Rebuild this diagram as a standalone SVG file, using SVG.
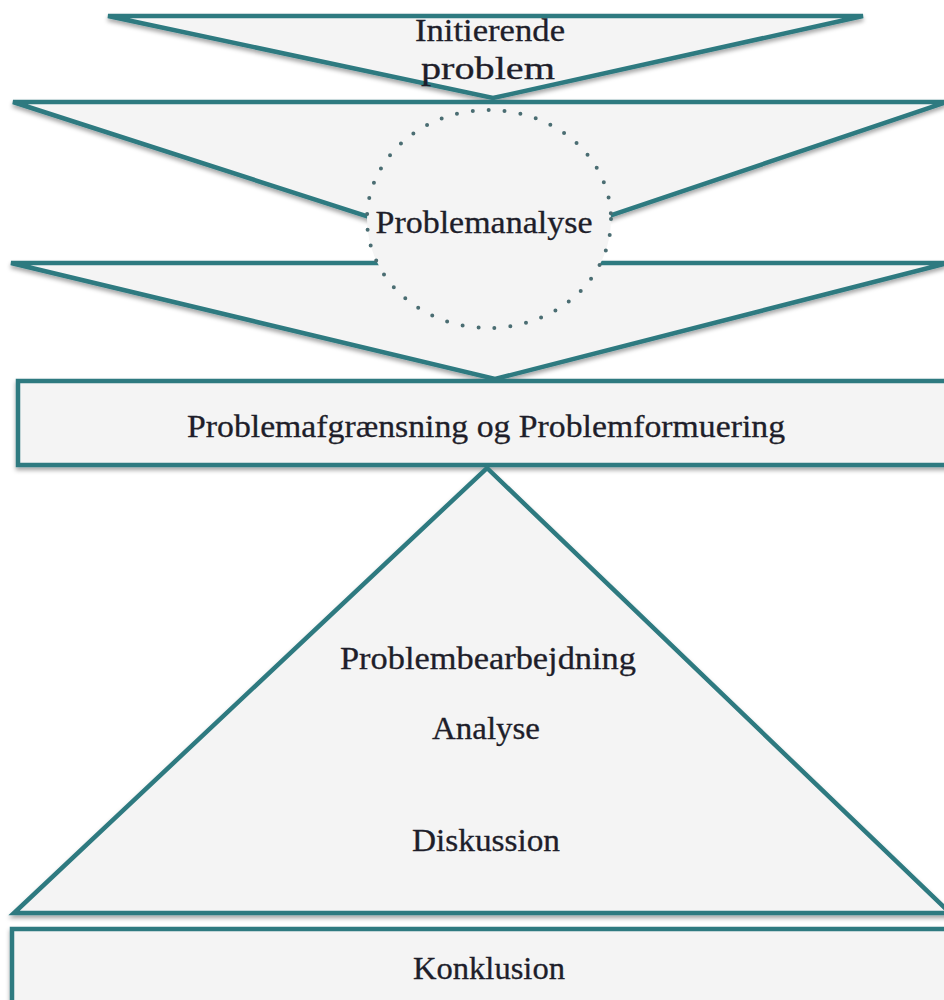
<svg xmlns="http://www.w3.org/2000/svg" width="944" height="1000" viewBox="0 0 944 1000">
<defs>
<filter id="sh" x="-5%" y="-5%" width="110%" height="120%">
<feDropShadow dx="0" dy="3" stdDeviation="2" flood-color="#000" flood-opacity="0.35"/>
</filter>
<style>
.shape{fill:#f4f4f4;stroke:#2e7a80;stroke-width:4.5;stroke-linejoin:miter;filter:url(#sh)}
.dot{fill:#f4f4f4;stroke:#4a6d72;stroke-width:4;stroke-linecap:round;stroke-dasharray:0 16}
.t{font-family:"Liberation Serif","DejaVu Serif",serif;font-size:31px;fill:#1e1e2a;text-anchor:middle;stroke:#1e1e2a;stroke-width:0.3}
</style>
</defs>
<rect width="944" height="1000" fill="#ffffff"/>
<g id="initierende">
<polygon class="shape" points="108,16 863,16 493,98"/>
<text class="t" x="490" y="41" textLength="150" lengthAdjust="spacingAndGlyphs">Initierende</text>
<text class="t" x="488" y="79" textLength="134" lengthAdjust="spacingAndGlyphs">problem</text>
</g>
<g id="problemanalyse-top">
<polygon class="shape" points="13,102 944,102 944,103 490,256"/>
</g>
<g id="problemanalyse-bottom">
<polygon class="shape" points="11,263 944,263 944,264 495,379"/>
</g>
<g id="problemanalyse">
<ellipse class="dot" cx="489" cy="219" rx="122" ry="109"/>
<text class="t" x="484" y="233" textLength="217" lengthAdjust="spacingAndGlyphs">Problemanalyse</text>
</g>
<g id="problemformulering">
<rect class="shape" x="18" y="381" width="940" height="84"/>
<text class="t" x="486" y="437" textLength="598" lengthAdjust="spacingAndGlyphs">Problemafgrænsning og Problemformuering</text>
</g>
<g id="problembearbejdning">
<polygon class="shape" points="487,468 950,913 14,913"/>
<text class="t" x="488" y="669" textLength="296" lengthAdjust="spacingAndGlyphs">Problembearbejdning</text>
<text class="t" x="486" y="739" textLength="108" lengthAdjust="spacingAndGlyphs">Analyse</text>
<text class="t" x="486" y="851" textLength="148" lengthAdjust="spacingAndGlyphs">Diskussion</text>
</g>
<g id="konklusion">
<rect class="shape" x="12" y="929" width="950" height="90"/>
<text class="t" x="489" y="979" textLength="152" lengthAdjust="spacingAndGlyphs">Konklusion</text>
</g>
<g id="connectors"/>
</svg>
